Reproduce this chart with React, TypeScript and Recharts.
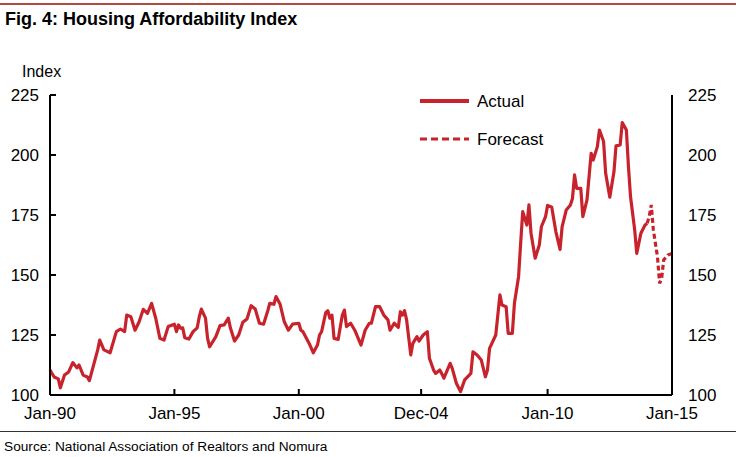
import React from 'react';
import { LineChart, Line, XAxis, YAxis } from 'recharts';

// months since Jan-1990
const actualMonths = [
  0, 2, 4, 5, 7, 9, 11, 13, 14, 16, 18, 19, 23, 24, 26, 29, 32, 34, 36, 37, 39, 41, 43, 45, 47, 49,
  51, 53, 55, 57, 59, 60, 61, 62, 63, 64, 65, 67, 69, 71, 72, 73, 75, 76, 77, 80, 82, 84, 86, 87,
  89, 91, 93, 95, 97, 99, 101, 103, 105, 106, 108, 109, 111, 113, 115, 117, 120, 121, 122, 125,
  127, 129, 130, 131, 133, 134, 135, 136, 137, 139, 141, 142, 143, 145, 147, 150, 152, 154, 155,
  157, 159, 161, 163, 164, 166, 168, 169, 170, 171, 172, 174, 175, 177, 178, 180, 182, 183, 185,
  186, 188, 189, 190, 193, 194, 196, 198, 200, 203, 204, 206, 208, 210, 211, 212, 215, 217, 218,
  220, 221, 223, 224, 226, 227, 228, 230, 231, 232, 234, 236, 237, 239, 240, 242, 244, 246, 247,
  249, 251, 252, 253, 254, 256, 257, 259, 261, 262, 264, 265, 267, 268, 270, 272, 273, 275, 276,
  278, 279, 280, 282, 283, 285, 287, 288,
];
const actualValues = [
  110.4, 107.5, 106.7, 103, 108.3, 109.6, 113.5, 111.3, 112.5, 108.3, 107.5, 106, 118.8, 122.9,
  118.8, 117.6, 126.4, 127.5, 126.4, 133.3, 132.6, 127, 130.5, 135.7, 134, 138.2, 132, 123.6,
  122.9, 128.5, 129.2, 129.5, 126.4, 129.2, 127.8, 128, 123.9, 123.3, 126.4, 128, 132.6, 135.8,
  132, 123.6, 120.1, 124.3, 128.9, 129.2, 132, 128, 122.5, 125, 130.3, 131.7, 137.2, 135.8, 129.9,
  129.5, 135, 138.2, 137.8, 141, 137.8, 130.5, 127, 129.5, 129.9, 127, 126.4, 121.5, 117.6, 120.8,
  125, 126.4, 134.3, 135.1, 132, 133.3, 123.6, 123.2, 133.3, 135.4, 128.5, 129.9, 127, 120.8, 127,
  129.9, 129.9, 136.8, 136.8, 133.3, 131.3, 127, 129.9, 128.2, 134.7, 133.3, 135.1, 131.3, 116.7,
  121.5, 124.3, 122.5, 125, 126.4, 115.3, 110.4, 109, 110.4, 108.8, 107, 113.2, 111.1, 104.9,
  101.4, 106.3, 109, 118, 116.7, 114.6, 107.6, 110.4, 119.4, 125, 141.7, 137.5, 136.8, 125.7,
  125.7, 138.2, 149.3, 163.2, 176.4, 170.8, 179.2, 167.4, 157, 162.5, 170.1, 174.3, 179, 178.2,
  168, 160.7, 170.1, 177.1, 179.2, 181.9, 191.7, 186.1, 186.1, 174.3, 181.3, 200.7, 197.9, 203.5,
  210.4, 205.6, 192.4, 182.4, 193, 203.8, 204.2, 213.5, 210.4, 195.1, 182.6, 168.8, 159, 167.4,
  170.8, 171.5,
];
const forecastMonths = [288, 289, 290, 291, 293, 294, 295, 296, 298, 300];
const forecastValues = [171.5, 174.3, 179.2, 168.8, 157.6, 146.5, 148.6, 156.3, 158.3, 159];

const xTicks = [0, 60, 120, 179, 240, 300];
const xTickLabels = ['Jan-90', 'Jan-95', 'Jan-00', 'Dec-04', 'Jan-10', 'Jan-15'];
const yTicks = [100, 125, 150, 175, 200, 225];

const RED = '#C8232C';
const FONT = '"Liberation Sans", Arial, sans-serif';
const PLOT_RIGHT = 672;

const actualData = actualMonths.map((m, i) => ({ m, value: actualValues[i] }));
const forecastData = forecastMonths.map((m, i) => ({ m, value: forecastValues[i] }));

const LegendBox = () => (
  <svg width={170} height={70} style={{ fontFamily: FONT, display: 'block' }}>
    <line x1={2} y1={8} x2={51} y2={8} stroke={RED} strokeWidth={4} />
    <text x={59} y={14} fontSize={17} fill="#000">Actual</text>
    <line x1={2} y1={46} x2={51} y2={46} stroke={RED} strokeWidth={3} strokeDasharray="7 4" />
    <text x={59} y={52} fontSize={17} fill="#000">Forecast</text>
  </svg>
);

// left axis labels, mirrored on the right-hand side at the same y positions
const BothSidesTick = (props: any) => {
  const { x, y, payload } = props;
  return (
    <g>
      <text x={x} y={y} dy="0.355em" textAnchor="end" fontSize={17} fill="#000" fontFamily={FONT}>
        {payload.value}
      </text>
      <text x={PLOT_RIGHT + 16} y={y} dy="0.355em" textAnchor="start" fontSize={17} fill="#000" fontFamily={FONT}>
        {payload.value}
      </text>
    </g>
  );
};

export default function App() {
  const tickStyle = { fontSize: 17, fill: '#000', fontFamily: FONT };
  return (
    <div style={{ position: 'absolute', left: 0, top: 0, width: 736, height: 457, background: '#fff', fontFamily: FONT, overflow: 'hidden' }}>
      <div style={{ position: 'absolute', left: 0, top: 3, width: 736, height: 2, background: '#B4483F' }} />
      <div style={{ position: 'absolute', left: 5, top: 9, fontSize: 18, fontWeight: 'bold', color: '#000' }}>
        Fig. 4: Housing Affordability Index
      </div>
      <div style={{ position: 'absolute', left: 22, top: 63, fontSize: 16, color: '#000' }}>Index</div>
      <div style={{ position: 'absolute', left: 0, top: 0 }}>
        <LineChart width={736} height={457} margin={{ top: 95, right: 0, bottom: 0, left: 0 }}>
          <XAxis
            dataKey="m"
            type="number"
            domain={[0, 300]}
            ticks={xTicks}
            tickFormatter={(v) => xTickLabels[xTicks.indexOf(v)] ?? ''}
            allowDuplicatedCategory={false}
            height={62}
            stroke="#000"
            strokeWidth={2}
            tickSize={-6}
            tickMargin={18}
            tick={tickStyle}
            interval={0}
          />
          <YAxis
            yAxisId="left"
            domain={[100, 225]}
            ticks={yTicks}
            width={50}
            stroke="#000"
            strokeWidth={2}
            tickSize={-6}
            tickMargin={17}
            tick={<BothSidesTick />}
            interval={0}
          />
          <YAxis
            yAxisId="right"
            orientation="right"
            domain={[100, 225]}
            ticks={yTicks}
            width={736 - PLOT_RIGHT}
            stroke="#000"
            strokeWidth={2}
            tickSize={-6}
            tick={false}
            tickLine
            interval={0}
          />
          <Line
            yAxisId="left"
            data={actualData}
            dataKey="value"
            stroke={RED}
            strokeWidth={3.2}
            dot={false}
            isAnimationActive={false}
            strokeLinejoin="round"
          />
          <Line
            yAxisId="left"
            data={forecastData}
            dataKey="value"
            stroke={RED}
            strokeWidth={3.2}
            strokeDasharray="5 3"
            dot={false}
            isAnimationActive={false}
          />
        </LineChart>
      </div>
      <div style={{ position: 'absolute', left: 418, top: 93 }}>
        <LegendBox />
      </div>
      <div style={{ position: 'absolute', left: 0, top: 431, width: 736, height: 1, background: '#333' }} />
      <div style={{ position: 'absolute', left: 4, top: 439, fontSize: 13.7, color: '#000' }}>
        Source: National Association of Realtors and Nomura
      </div>
    </div>
  );
}
